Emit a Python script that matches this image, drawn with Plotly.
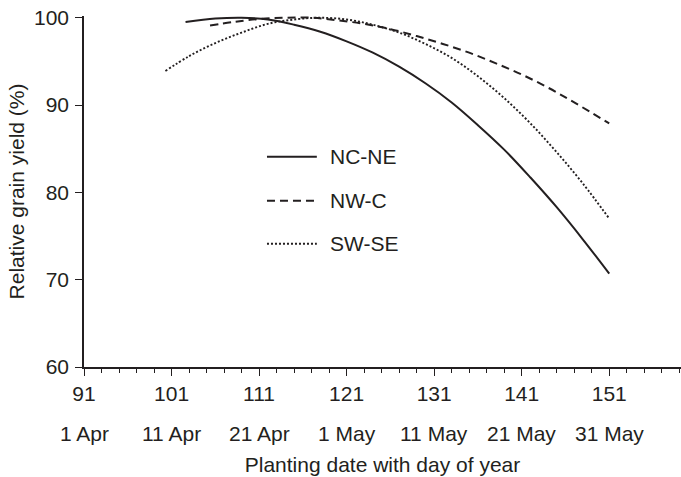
import plotly.graph_objects as go

# Planting day of year and relative grain yield (%) per region
nc_ne_day = [102.6, 106, 109, 112, 115, 118, 121, 124, 127, 130, 133, 136, 139, 142, 145, 148, 151]
nc_ne_yield = [99.5, 99.9, 100.0, 99.8, 99.2, 98.4, 97.3, 96.0, 94.4, 92.5, 90.3, 87.7, 84.9, 81.7, 78.3, 74.6, 70.7]

nw_c_day = [105.4, 108, 111, 114, 117, 120, 123, 126, 129, 132, 135, 138, 141, 144, 147, 151]
nw_c_yield = [99.1, 99.5, 99.85, 100.0, 100.0, 99.7, 99.3, 98.7, 97.9, 97.0, 96.0, 94.8, 93.5, 92.0, 90.3, 87.9]

sw_se_day = [100.3, 103, 106, 109, 112, 115, 118, 121, 124, 127, 130, 133, 136, 139, 142, 145, 148, 151]
sw_se_yield = [93.9, 95.6, 97.1, 98.3, 99.3, 99.8, 100.0, 99.8, 99.2, 98.3, 97.0, 95.4, 93.3, 90.8, 87.9, 84.6, 81.0, 77.0]

series_names = ["NC-NE", "NW-C", "SW-SE"]
series_days = [nc_ne_day, nw_c_day, sw_se_day]
series_yields = [nc_ne_yield, nw_c_yield, sw_se_yield]
series_dash = ["solid", "8px,5px", "2px,2px"]
series_width = [2, 2, 1.9]

# Axis ticks
day_ticks = [91, 101, 111, 121, 131, 141, 151]
date_labels = ["1 Apr", "11 Apr", "21 Apr", "1 May", "11 May", "21 May", "31 May"]
yield_ticks = [60, 70, 80, 90, 100]

INK = "#231f20"
FONT = "Liberation Sans, Arial, sans-serif"
FS = 21

fig = go.Figure()
for name, xs, ys, dash, w in zip(series_names, series_days, series_yields, series_dash, series_width):
    fig.add_trace(go.Scatter(
        x=xs, y=ys, name=name, mode="lines",
        line=dict(color=INK, width=w, dash=dash, shape="spline", smoothing=1.0),
        showlegend=False,
    ))

# Hand-built key: sample line plus label for each series
key_x0, key_x1, key_text_x = 0.3065, 0.390, 0.4087
key_y = [0.599, 0.474, 0.351]
for name, dash, w, ky in zip(series_names, series_dash, series_width, key_y):
    fig.add_shape(type="line", xref="paper", yref="paper",
                  x0=key_x0, x1=key_x1, y0=ky, y1=ky,
                  line=dict(color=INK, width=w, dash=dash))
    fig.add_annotation(xref="paper", yref="paper", x=key_text_x, y=ky,
                       text=name, showarrow=False, xanchor="left", yanchor="middle",
                       font=dict(family=FONT, size=FS, color=INK))

# Second row of x labels: calendar dates under the day-of-year ticks
for d, lab in zip(day_ticks, date_labels):
    fig.add_annotation(xref="x", yref="paper", x=d, y=0, yshift=-53,
                       text=lab, showarrow=False, xanchor="center", yanchor="top",
                       font=dict(family=FONT, size=FS, color=INK))

fig.update_xaxes(
    range=[91, 159.2], tickmode="array", tickvals=day_ticks,
    ticktext=[str(d) for d in day_ticks],
    ticks="outside", ticklen=7, tickwidth=1.3, tickcolor=INK,
    minor=dict(tickmode="linear", tick0=91, dtick=2, ticks="outside",
               ticklen=4, tickwidth=1.3, tickcolor=INK),
    showline=True, linecolor=INK, linewidth=1.5,
    showgrid=False, zeroline=False,
    tickfont=dict(family=FONT, size=FS, color=INK),
    title=dict(text="Planting date with day of year",
               font=dict(family=FONT, size=FS, color=INK), standoff=53),
)
fig.update_yaxes(
    range=[60, 100.2], tickmode="array", tickvals=yield_ticks,
    ticks="outside", ticklen=7, tickwidth=1.3, tickcolor=INK,
    showline=True, linecolor=INK, linewidth=1.5,
    showgrid=False, zeroline=False,
    ticklabelstandoff=2,
    tickfont=dict(family=FONT, size=FS, color=INK),
    title=dict(text="Relative grain yield (%)",
               font=dict(family=FONT, size=FS, color=INK), standoff=4),
)

fig.update_layout(
    width=681, height=477,
    margin=dict(l=84, r=0, t=16, b=110, autoexpand=False),
    plot_bgcolor="white", paper_bgcolor="white",
    font=dict(family=FONT, size=FS, color=INK),
)

fig.write_html("out.html")
